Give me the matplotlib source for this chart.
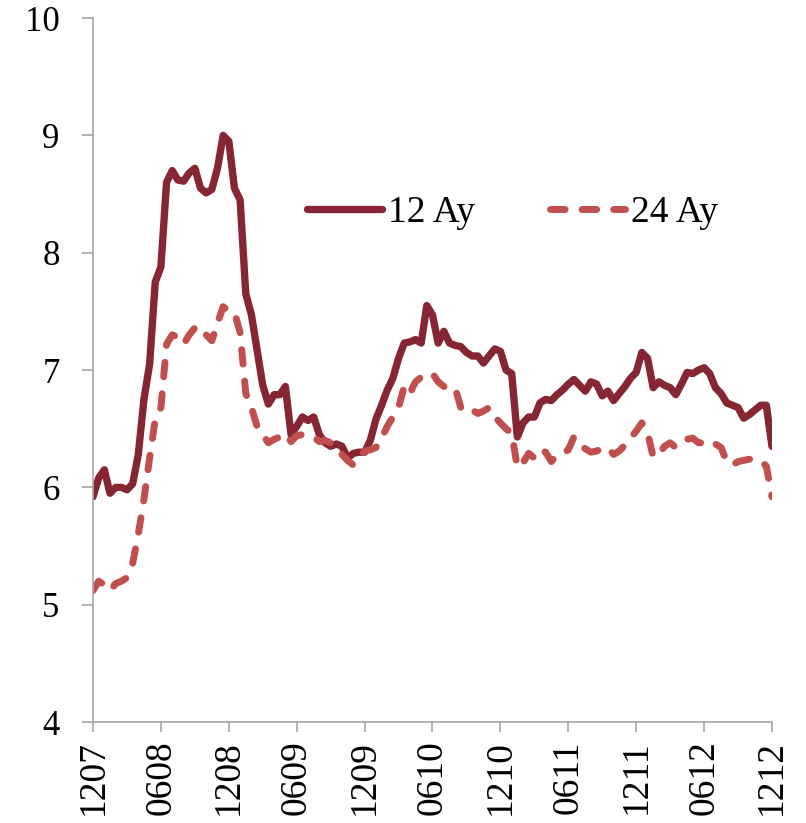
import matplotlib
matplotlib.use("Agg")
import matplotlib.pyplot as plt
import numpy as np

# semi-monthly observations, Dec 2007 .. Dec 2012
tick_labels = ["1207", "0608", "1208", "0609", "1209", "0610",
               "1210", "0611", "1211", "0612", "1212"]

series_12 = [
    5.92, 6.08, 6.15, 5.95, 6.00, 6.00, 5.98, 6.03, 6.28, 6.75,
    7.05, 7.75, 7.88, 8.60, 8.70, 8.62, 8.61, 8.68, 8.72, 8.55,
    8.51, 8.54, 8.72, 9.00, 8.95, 8.55, 8.45, 7.65, 7.47, 7.17,
    6.87, 6.71, 6.79, 6.79, 6.86, 6.45, 6.52, 6.60, 6.57, 6.60,
    6.45, 6.38, 6.35, 6.37, 6.35, 6.25, 6.29, 6.30, 6.30, 6.40,
    6.58, 6.70, 6.83, 6.93, 7.10, 7.23, 7.24, 7.26, 7.23, 7.55,
    7.47, 7.23, 7.33, 7.23, 7.21, 7.20, 7.15, 7.12, 7.12, 7.06,
    7.12, 7.18, 7.16, 7.00, 6.97, 6.43, 6.55, 6.60, 6.60, 6.72,
    6.75, 6.74, 6.79, 6.83, 6.88, 6.92, 6.87, 6.82, 6.90, 6.88,
    6.78, 6.82, 6.74, 6.80, 6.86, 6.93, 6.98, 7.15, 7.10, 6.85,
    6.90, 6.87, 6.85, 6.79, 6.88, 6.98, 6.97, 7.00, 7.02, 6.97,
    6.85, 6.80, 6.72, 6.70, 6.68, 6.59, 6.62, 6.66, 6.70, 6.70,
    6.35,
]

series_24 = [
    5.12, 5.20, 5.17, 5.12, 5.18, 5.20, 5.23, 5.35, 5.60, 5.90,
    6.25, 6.58, 6.68, 7.22, 7.30, 7.28, 7.22, 7.30, 7.36, 7.37,
    7.30, 7.25, 7.40, 7.54, 7.50, 7.49, 7.32, 6.80, 6.68, 6.52,
    6.45, 6.38, 6.41, 6.43, 6.46, 6.39, 6.44, 6.45, 6.45, 6.43,
    6.39, 6.40, 6.38, 6.32, 6.28, 6.23, 6.19, 6.25, 6.31, 6.32,
    6.34, 6.42, 6.52, 6.60, 6.68, 6.86, 6.80, 6.90, 6.94, 6.97,
    6.97, 6.90, 6.86, 6.86, 6.85, 6.68, 6.70, 6.66, 6.63, 6.65,
    6.68, 6.60, 6.55, 6.50, 6.46, 6.17, 6.21, 6.29, 6.25, 6.32,
    6.30, 6.22, 6.28, 6.29, 6.32, 6.43, 6.36, 6.33, 6.30, 6.31,
    6.33, 6.34, 6.28, 6.31, 6.36, 6.42, 6.48, 6.55, 6.47, 6.26,
    6.28, 6.35, 6.38, 6.34, 6.37, 6.41, 6.42, 6.38, 6.38, 6.40,
    6.37, 6.34, 6.22, 6.19, 6.22, 6.23, 6.24, 6.24, 6.23, 6.18,
    5.92,
]

series_names = ["12 Ay", "24 Ay"]
color_12 = "#862633"
color_24 = "#C0504D"

plt.rcParams["font.family"] = ["Liberation Serif", "DejaVu Serif"]

fig = plt.figure(figsize=(8.06, 8.23), dpi=100)
ax = fig.add_axes([0.1154, 0.1227, 0.8424, 0.8553])

x = np.arange(len(series_12)) / 2.0  # months since start

ax.plot(x, series_12, color=color_12, lw=5.3, solid_capstyle="round",
        solid_joinstyle="round", label=series_names[0])
ax.plot(x, series_24, color=color_24, lw=5.0, dashes=(2.1, 2.45),
        dash_capstyle="round", dash_joinstyle="round", label=series_names[1])

ax.set_xlim(0, 60)
ax.set_ylim(4, 10)
ax.set_yticks(np.arange(4, 11, 1))
ax.set_xticks(np.arange(0, 61, 6))
ax.set_xticklabels(tick_labels, rotation=90)

for s in ["top", "right"]:
    ax.spines[s].set_visible(False)
for s in ["left", "bottom"]:
    ax.spines[s].set_color("#A6A6A6")
    ax.spines[s].set_linewidth(1.2)

ax.tick_params(axis="y", length=8, width=1.2, color="#A6A6A6",
               labelsize=25, pad=16)
ax.tick_params(axis="x", length=7, width=1.2, color="#A6A6A6",
               labelsize=27, pad=6)

leg = ax.legend(loc="center", bbox_to_anchor=(0.618, 0.723), ncol=2,
                frameon=False, fontsize=27, handlelength=2.0,
                handletextpad=0.15, columnspacing=2.0)

fig.savefig("out.png", dpi=100)
